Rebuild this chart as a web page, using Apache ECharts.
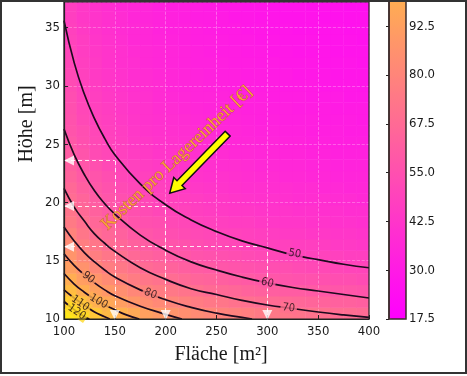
<!DOCTYPE html>
<html>
<head>
<meta charset="utf-8">
<script src="https://cdn.jsdelivr.net/npm/echarts@6/dist/echarts.min.js"></script>
<style>
html, body { margin: 0; padding: 0; background: #fff; }
#chart { width: 467px; height: 376px; }
</style>
</head>
<body>
<div id="chart"></div>
<script>
// cell centres of the cost field
var flaeche = [106.25, 118.75, 131.25, 143.75, 156.25, 168.75, 181.25, 193.75, 206.25, 218.75, 231.25, 243.75,
               256.25, 268.75, 281.25, 293.75, 306.25, 318.75, 331.25, 343.75, 356.25, 368.75, 381.25, 393.75];
var hoehe = [10.5, 11.5, 12.5, 13.5, 14.5, 15.5, 16.5, 17.5, 18.5, 19.5, 20.5, 21.5, 22.5, 23.5,
             24.5, 25.5, 26.5, 27.5, 28.5, 29.5, 30.5, 31.5, 32.5, 33.5, 34.5, 35.5, 36.5, 37.5];

// Kosten pro Lagereinheit [€], one row per Höhe (bottom row first)
var kosten = [
  [126,118,111,105,101,97,93,90,87,85,83,81,79,78,77,75,74,73,72,71,70,69,69,68],
  [115,108,101,96,92,88,85,82,80,78,76,74,73,71,70,69,68,67,66,65,64,63,63,62],
  [106,99,93,89,85,81,78,76,74,72,70,68,67,66,64,63,62,61,61,60,59,58,58,57],
  [99,92,87,83,79,76,73,71,69,67,65,64,62,61,60,59,58,57,56,56,55,54,54,53],
  [92,86,81,77,74,71,68,66,64,62,61,60,58,57,56,55,54,54,53,52,52,51,50,50],
  [87,81,77,73,70,67,64,62,60,59,57,56,55,54,53,52,51,50,50,49,49,48,47,47],
  [83,77,73,69,66,63,61,59,57,56,54,53,52,51,50,49,48,48,47,47,46,45,45,44],
  [79,73,69,66,63,60,58,56,54,53,52,51,49,49,48,47,46,45,45,44,44,43,43,42],
  [75,70,66,63,60,57,55,54,52,51,49,48,47,46,46,45,44,43,43,42,42,41,41,40],
  [72,67,63,60,57,55,53,51,50,49,47,46,45,44,44,43,42,42,41,41,40,40,39,39],
  [69,65,61,58,55,53,51,49,48,47,46,45,44,43,42,41,41,40,39,39,39,38,38,37],
  [67,62,59,56,53,51,49,48,46,45,44,43,42,41,40,40,39,39,38,38,37,37,36,36],
  [64,60,57,54,51,49,48,46,45,44,42,41,41,40,39,38,38,37,37,36,36,35,35,35],
  [62,58,55,52,50,48,46,45,43,42,41,40,39,39,38,37,37,36,36,35,35,34,34,34],
  [61,57,53,51,48,46,45,43,42,41,40,39,38,37,37,36,36,35,35,34,34,33,33,33],
  [59,55,52,49,47,45,44,42,41,40,39,38,37,36,36,35,35,34,34,33,33,32,32,32],
  [57,54,51,48,46,44,42,41,40,39,38,37,36,36,35,34,34,33,33,32,32,32,31,31],
  [56,52,49,47,45,43,41,40,39,38,37,36,35,35,34,33,33,32,32,32,31,31,31,30],
  [55,51,48,46,44,42,41,39,38,37,36,35,35,34,33,33,32,32,31,31,31,30,30,30],
  [54,50,47,45,43,41,40,38,37,36,35,35,34,33,33,32,31,31,31,30,30,30,29,29],
  [53,49,46,44,42,40,39,38,36,35,35,34,33,32,32,31,31,30,30,30,29,29,29,28],
  [52,48,45,43,41,39,38,37,36,35,34,33,32,32,31,31,30,30,29,29,29,28,28,28],
  [51,47,45,42,40,39,37,36,35,34,33,33,32,31,31,30,30,29,29,29,28,28,28,27],
  [50,46,44,42,40,38,37,36,35,34,33,32,31,31,30,30,29,29,28,28,28,27,27,27],
  [49,46,43,41,39,37,36,35,34,33,32,32,31,30,30,29,29,28,28,28,27,27,27,26],
  [48,45,42,40,38,37,36,34,33,33,32,31,30,30,29,29,28,28,27,27,27,27,26,26],
  [47,44,42,40,38,36,35,34,33,32,31,31,30,29,29,28,28,27,27,27,26,26,26,26],
  [47,44,41,39,37,36,35,33,32,32,31,30,29,29,28,28,27,27,27,26,26,26,25,25]
];

// contour lines [Fläche, Höhe]
var levels = [50, 60, 70, 80, 90, 100, 110, 120];
var c50 = [[100,35.6],[110,32.0],[120,29.3],[130,27.2],[140,25.5],[150,24.1],[175,21.6],[200,19.8],[225,18.5],[250,17.5],[275,16.7],[300,16.1],[325,15.5],[350,15.1],[375,14.7],[400,14.4]];
var c60 = [[100,26.3],[110,24.1],[120,22.4],[130,21.0],[140,19.9],[150,19.0],[175,17.2],[200,15.9],[225,14.9],[250,14.2],[275,13.6],[300,13.1],[325,12.7],[350,12.4],[375,12.1],[400,11.8]];
var c70 = [[100,21.2],[110,19.6],[120,18.4],[130,17.3],[140,16.5],[150,15.8],[175,14.4],[200,13.4],[225,12.6],[250,12.1],[275,11.6],[300,11.2],[325,10.9],[350,10.6],[375,10.35],[400,10.14]];
var c80 = [[100,17.9],[110,16.7],[120,15.7],[130,14.9],[140,14.2],[150,13.6],[175,12.5],[200,11.65],[225,11.0],[250,10.5],[275,10.14],[285,10.0]];
var c90 = [[100,15.6],[110,14.6],[120,13.8],[130,13.1],[140,12.5],[150,12.0],[175,11.1],[200,10.4],[216,10.0]];
var c100 = [[100,13.9],[110,13.0],[120,12.3],[130,11.7],[140,11.2],[150,10.8],[160,10.4],[174,10.0]];
var c110 = [[100,12.5],[110,11.8],[120,11.2],[130,10.6],[140,10.2],[145,10.0]];
var c120 = [[100,11.5],[110,10.8],[120,10.2],[125,10.0]];
var contours = [c50, c60, c70, c80, c90, c100, c110, c120];

// inline labels [Fläche, Höhe, level]
var contourLabels = [[327,15.6,50],[300,13.1,60],[321,10.95,70],[185,12.15,80],[124,13.55,90],[134,11.5,100],[116,11.35,110],[112.5,10.6,120]];

// marked optimum points on the 50 line
var markedPoints = [[150,23.6],[200,19.7],[300,16.2]];

// annotation: text centre, arrow tail, arrow tip
var annotText = [211, 23.8];
var arrowTail = [261, 25.9];
var arrowTip = [204, 20.8];

var FONT = "'DejaVu Sans Condensed', 'DejaVu Sans', sans-serif";
var SERIF = "'Liberation Serif', 'DejaVu Serif', serif";

function springColor(v) {
  var t = Math.max(0, Math.min(1, (v - 17.5) / 120));
  return 'rgb(255,' + Math.round(255 * t) + ',' + Math.round(255 * (1 - t)) + ')';
}

var heatData = [];
kosten.forEach(function (row, j) {
  row.forEach(function (v, i) { heatData.push([i, j, v]); });
});

var series = [{
  type: 'heatmap', xAxisIndex: 0, yAxisIndex: 0, data: heatData,
  silent: true, z: 1, progressive: 0, itemStyle: { borderWidth: 0 }
}];

contours.forEach(function (pts) {
  series.push({
    type: 'line', xAxisIndex: 1, yAxisIndex: 1, data: pts, smooth: true,
    symbol: 'none', silent: true, z: 6,
    lineStyle: { color: '#1e0a1e', width: 1.7 }
  });
});

var triData = [];
var guideLines = [];
markedPoints.forEach(function (p) {
  triData.push({ value: [100, p[1]], symbolRotate: 90, symbolOffset: [5, 0] });
  triData.push({ value: [p[0], 10], symbolRotate: 180, symbolOffset: [0, -4] });
  guideLines.push([{ coord: [100, p[1]] }, { coord: [p[0], p[1]] }]);
  guideLines.push([{ coord: [p[0], 10] }, { coord: [p[0], p[1]] }]);
});

series.push({
  type: 'scatter', xAxisIndex: 1, yAxisIndex: 1, data: triData,
  symbol: 'triangle', symbolSize: 10, silent: true, z: 8,
  itemStyle: { color: '#ffffff' },
  markLine: {
    silent: true, symbol: ['none', 'none'], label: { show: false },
    lineStyle: { color: '#ffffff', type: [4, 3], width: 1, opacity: 0.85 },
    data: guideLines
  }
});

series.push({
  id: 'labels', type: 'scatter', xAxisIndex: 1, yAxisIndex: 1, data: [],
  symbolSize: 0, silent: true, z: 7,
  label: {
    show: true, position: 'inside', fontSize: 11, fontFamily: FONT, color: '#1a0a14',
    padding: [0, 2],
    formatter: function (p) { return p.value[2]; }
  }
});

var axisText = { color: '#1a1a1a', fontFamily: FONT, fontSize: 13 };

var option = {
  animation: false,
  backgroundColor: '#ffffff',
  grid: [
    { left: 64, right: 98, top: -7.3, bottom: 57 },
    { left: 64, right: 98, top: 2, bottom: 57 },
    { left: 389, right: 61, top: 0, bottom: 57 }
  ],
  xAxis: [
    { gridIndex: 0, type: 'category', data: flaeche, show: false },
    {
      gridIndex: 1, type: 'value', min: 100, max: 400, interval: 50, z: 5,
      axisLine: { show: true, onZero: false, lineStyle: { color: '#222', width: 1.2 } },
      axisTick: { show: true, inside: true, length: 4, lineStyle: { color: '#222' } },
      axisLabel: Object.assign({ margin: 6 }, axisText),
      splitLine: { show: true, lineStyle: { color: 'rgba(255,255,255,0.35)', type: 'dashed', width: 0.8 } }
    },
    { gridIndex: 2, type: 'value', min: 0, max: 1, show: false }
  ],
  yAxis: [
    { gridIndex: 0, type: 'category', data: hoehe, show: false },
    {
      gridIndex: 1, type: 'value', min: 10, max: 37.2, interval: 5, z: 5,
      axisLine: { show: true, onZero: false, lineStyle: { color: '#222', width: 1.2 } },
      axisTick: { show: true, inside: true, length: 4, lineStyle: { color: '#222' } },
      axisLabel: Object.assign({ margin: 4, showMaxLabel: false }, axisText),
      splitLine: { show: true, lineStyle: { color: 'rgba(255,255,255,0.35)', type: 'dashed', width: 0.8 } }
    },
    {
      gridIndex: 2, type: 'value', min: 17.5, max: 99.2, interval: 12.5, position: 'right', z: 5,
      axisLine: { show: true, lineStyle: { color: '#3b2b2b', width: 1.5 } },
      axisTick: { show: true, inside: true, length: 3, lineStyle: { color: '#222' } },
      axisLabel: Object.assign({ margin: 3, showMaxLabel: false, formatter: function (v) { return v.toFixed(1); } }, axisText),
      splitLine: { show: false }
    }
  ],
  visualMap: {
    type: 'continuous', seriesIndex: 0, min: 17.5, max: 137.5,
    inRange: { color: ['#ff00ff', '#ffff00'] },
    calculable: false, hoverLink: false, show: true,
    left: 389, bottom: 57, itemWidth: 17, itemHeight: 469, padding: 0
  },
  series: series
};

var chart = echarts.init(document.getElementById('chart'));
chart.setOption(option);

function px(p) { return chart.convertToPixel({ gridIndex: 1 }, p); }

// turn each inline label along its contour
var labelData = contourLabels.map(function (l) {
  var pts = contours[levels.indexOf(l[2])];
  var i = 0;
  while (i < pts.length - 2 && pts[i + 1][0] < l[0]) i++;
  var a = px(pts[i]), b = px(pts[i + 1]);
  var rot = -Math.atan2(b[1] - a[1], b[0] - a[0]) * 180 / Math.PI;
  return { value: [l[0], l[1], l[2]], label: { rotate: rot, backgroundColor: springColor(l[2]) } };
});

// block arrow
var t = px(arrowTail), s = px(arrowTip);
var dx = s[0] - t[0], dy = s[1] - t[1], len = Math.sqrt(dx * dx + dy * dy);
var ux = dx / len, uy = dy / len, nx = -uy, ny = ux;
var hw = 3.5, hh = 8, hl = 14;
var bx = s[0] - ux * hl, by = s[1] - uy * hl;
var arrowPts = [
  [t[0] + nx * hw, t[1] + ny * hw], [bx + nx * hw, by + ny * hw], [bx + nx * hh, by + ny * hh],
  [s[0], s[1]],
  [bx - nx * hh, by - ny * hh], [bx - nx * hw, by - ny * hw], [t[0] - nx * hw, t[1] - ny * hw]
];
var tc = px(annotText);

chart.setOption({
  series: [{ id: 'labels', data: labelData }],
  graphic: [
    { type: 'rect', z: 50, silent: true, shape: { x: 64, y: 2, width: 305, height: 317 },
      style: { fill: 'none', stroke: '#222', lineWidth: 1.2 } },
    { type: 'rect', z: 50, silent: true, shape: { x: 389, y: 0, width: 17, height: 319 },
      style: { fill: 'none', stroke: '#3b2b2b', lineWidth: 1.5 } },
    { type: 'rect', z: 50, silent: true, shape: { x: 1, y: 1, width: 465, height: 372 },
      style: { fill: 'none', stroke: '#333', lineWidth: 2 } },
    { type: 'polygon', z: 40, silent: true, shape: { points: arrowPts },
      style: { fill: '#ffff00', stroke: '#111', lineWidth: 1.5 } },
    { type: 'text', z: 40, silent: true, x: tc[0], y: tc[1], rotation: 43.5 * Math.PI / 180,
      style: { text: 'Kosten pro Lagereinheit [€]', fontFamily: SERIF, fontSize: 18, fill: '#f8a434',
               stroke: 'rgba(150,70,20,0.55)', lineWidth: 0.8,
               align: 'center', verticalAlign: 'middle' } },
    { type: 'text', z: 40, silent: true, x: 221, y: 355,
      style: { text: 'Fläche [m²]', fontFamily: SERIF, fontSize: 20, fill: '#1a1a1a',
               align: 'center', verticalAlign: 'middle' } },
    { type: 'text', z: 40, silent: true, x: 27, y: 124, rotation: Math.PI / 2,
      style: { text: 'Höhe [m]', fontFamily: SERIF, fontSize: 20, fill: '#1a1a1a',
               align: 'center', verticalAlign: 'middle' } }
  ]
});
</script>
</body>
</html>
